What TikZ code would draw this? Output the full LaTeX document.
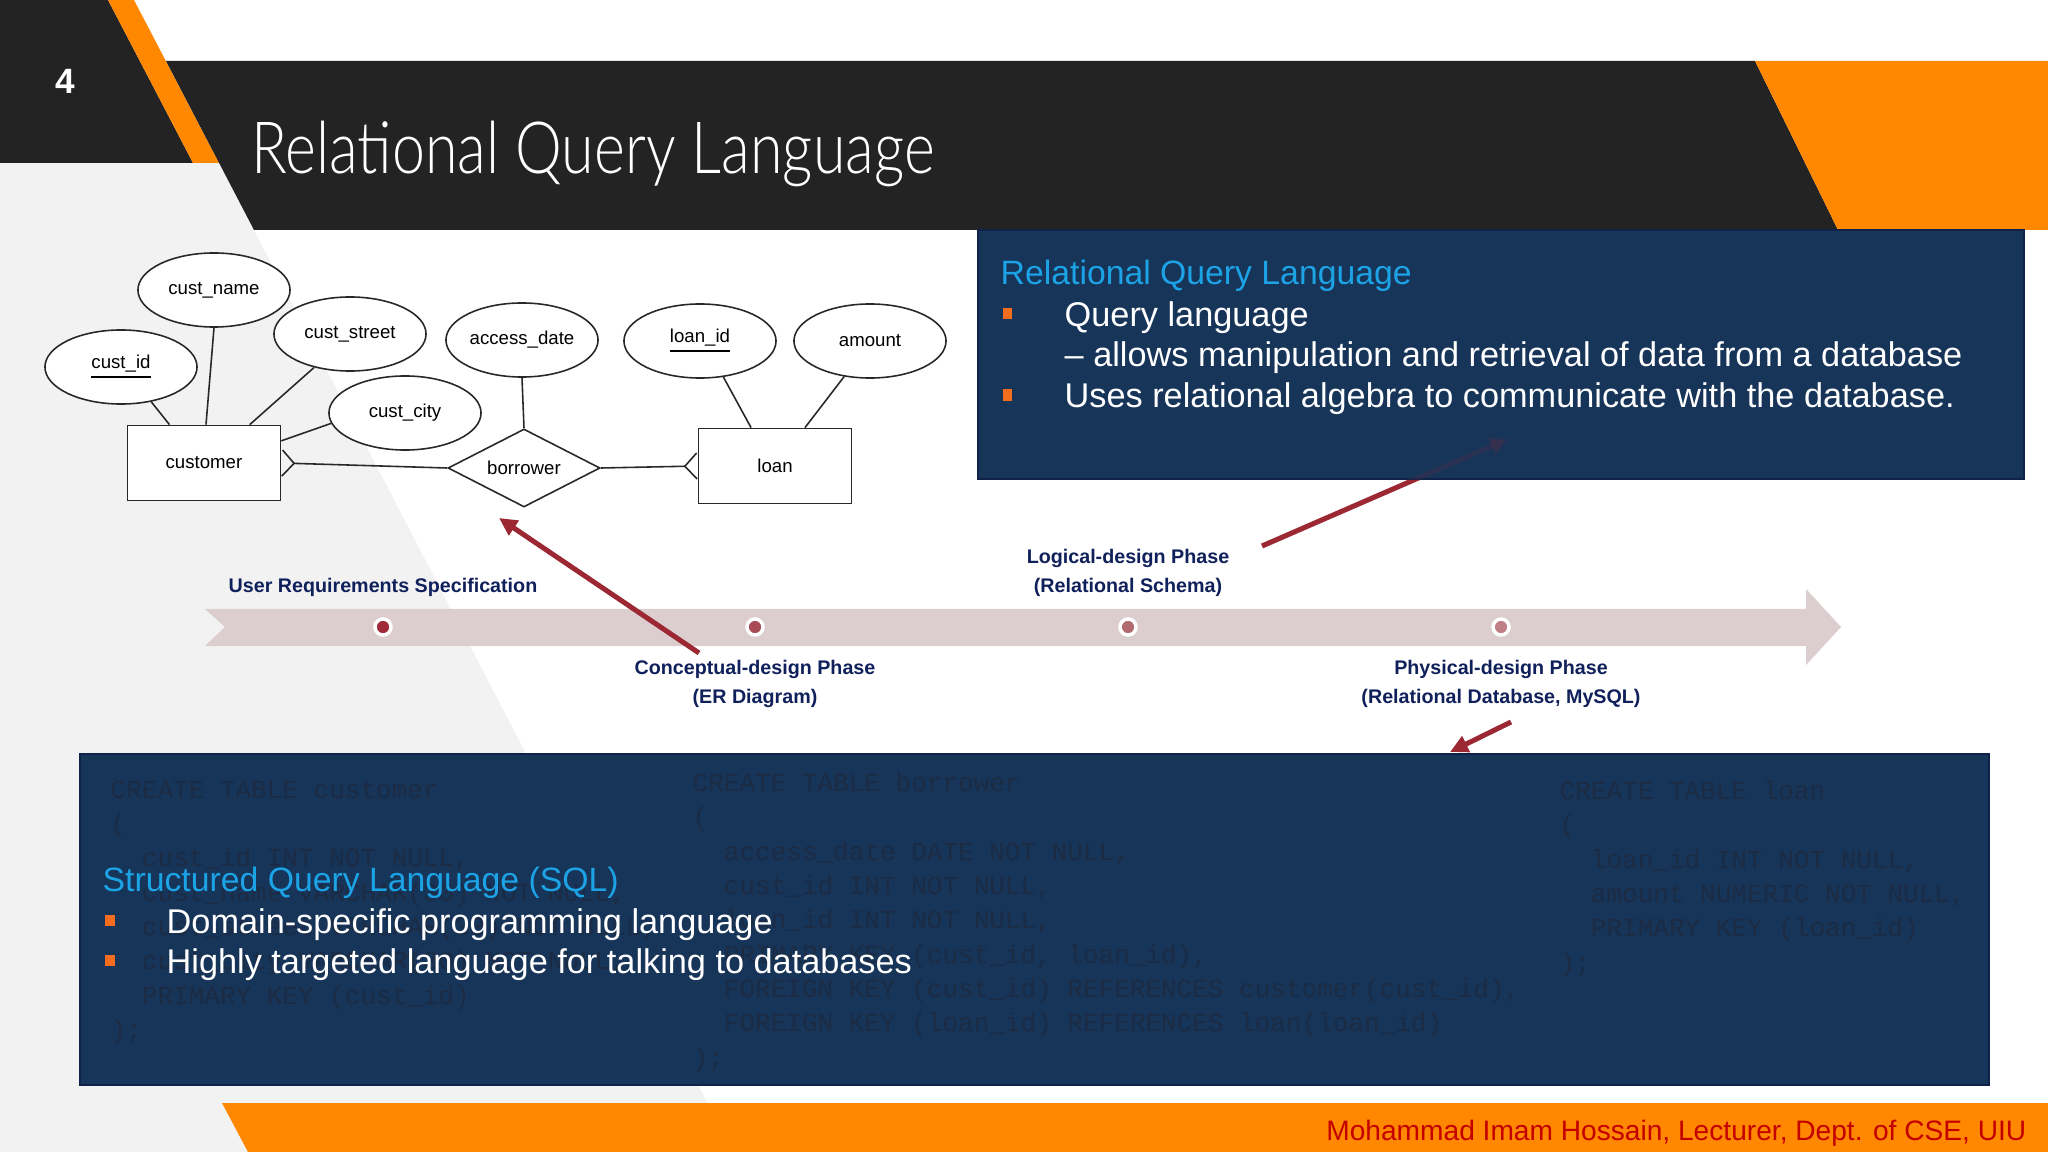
\documentclass[tikz,border=0pt]{standalone}
\usepackage{fontspec}
\setmainfont{Liberation Sans}
\setmonofont{Liberation Mono}
\newfontfamily\titlefont[FakeStretch=0.82]{Lato Light}
\usetikzlibrary{arrows.meta,positioning,shapes.geometric}

\definecolor{darkband}{RGB}{35,35,35}
\definecolor{accent}{RGB}{255,136,0}
\definecolor{backgray}{RGB}{242,242,243}
\definecolor{panel}{RGB}{23,52,89}
\definecolor{panelline}{RGB}{14,34,74}
\definecolor{ghost}{RGB}{27,44,68}
\definecolor{headblue}{RGB}{28,163,230}
\definecolor{marker}{RGB}{242,110,30}
\definecolor{phasetext}{RGB}{16,32,90}
\definecolor{band}{RGB}{220,205,207}
\definecolor{arrowred}{RGB}{155,40,50}
\definecolor{erline}{RGB}{40,40,40}
\definecolor{credit}{RGB}{196,0,0}
\definecolor{dotA}{RGB}{160,40,55}
\definecolor{dotB}{RGB}{168,75,85}
\definecolor{dotC}{RGB}{178,105,112}
\definecolor{dotD}{RGB}{190,128,133}

\begin{document}
\begin{tikzpicture}[
    x=0.01cm, y=-0.01cm,
    entity/.style={
        rectangle, draw=erline, fill=white, line width=0.45pt,
        minimum width=1.53cm, minimum height=0.75cm,
        font=\fontsize{5.3}{6}\selectfont
    },
    attrib/.style={
        ellipse, draw=erline, fill=white, line width=0.45pt, inner sep=0pt,
        minimum width=1.52cm, minimum height=0.74cm,
        font=\fontsize{5.3}{6}\selectfont
    },
    relation/.style={
        diamond, aspect=2, draw=erline, fill=white, line width=0.45pt, inner sep=0pt,
        minimum width=1.52cm, minimum height=0.78cm,
        font=\fontsize{5.3}{6}\selectfont
    },
    link/.style={draw=erline, line width=0.45pt},
    crow/.tip={Straight Barb[reversed, length=1.2mm, width=2.6mm]},
    phasedot/.style={circle, draw=white, line width=0.035cm, minimum size=0.16cm, inner sep=0pt},
    phase/.style={
        align=center, inner sep=0pt, text=phasetext,
        font=\bfseries\fontsize{5.6}{8.25}\selectfont
    },
    pointer/.style={-{Triangle[length=0.18cm, width=0.17cm]}, line width=0.05cm, draw=arrowred},
    panelbox/.style={fill=panel, draw=panelline, line width=0.02cm},
    heading/.style={anchor=base west, inner sep=0pt, text=headblue, font=\fontsize{9.6}{11}\selectfont},
    body/.style={anchor=base west, inner sep=0pt, text=white, font=\fontsize{9.75}{11}\selectfont},
    bullet/.style={rectangle, fill=marker, minimum width=0.09cm, minimum height=0.11cm, inner sep=0pt},
    ghostcode/.style={
        anchor=north west, align=left, inner sep=0pt, text=ghost,
        font=\ttfamily\fontsize{7.4}{9.76}\selectfont
    }
]

% Fundo
\fill[white] (0,0) rectangle (2048,1152);
\useasboundingbox (0,0) rectangle (2048,1152);
\fill[backgray] (0,163) -- (219,163) -- (733,1152) -- (0,1152) -- cycle;

% Barra do titulo
\fill[darkband] (0,0) -- (108,0) -- (193,163) -- (0,163) -- cycle;
\fill[accent] (108,0) -- (134,0) -- (219,163) -- (193,163) -- cycle;
\fill[darkband] (166,61) -- (1755,61) -- (1838,230) -- (254,230) -- cycle;
\fill[accent] (1755,61) -- (2048,61) -- (2048,230) -- (1838,230) -- cycle;
\node[anchor=base, inner sep=0pt, text=white, font=\bfseries\fontsize{10}{12}\selectfont] (slidenum) at (65,94) {4};
\node[anchor=base west, inner sep=0pt, text=white, font=\titlefont\fontsize{20.5}{24}\selectfont] (title) at (251,174) {Relational Query Language};

% Diagrama ER
\node[entity] (customer) at (204,463) {customer};
\node[relation] (borrower) at (524,468) {borrower};
\node[entity] (loan) at (775,466) {loan};
\node[attrib] (custname) at (214,290) {cust\_name};
\node[attrib] (custid) at (121,367) {\underline{cust\_id}};
\node[attrib] (custstreet) at (350,334) {cust\_street};
\node[attrib] (custcity) at (405,413) {cust\_city};
\node[attrib] (accessdate) at (522,340) {access\_date};
\node[attrib] (loanid) at (700,341) {\underline{loan\_id}};
\node[attrib] (amount) at (870,341) {amount};

\draw[link] (custid.-49) -- (customer.132);
\draw[link] (custname.south) -- (customer.87);
\draw[link] (custstreet.-137) -- (customer.40);
\draw[link] (custcity.-172) -- (customer.16);
\draw[link] (accessdate.south) -- (borrower.north);
\draw[link] (loanid.-57) -- (loan.122);
\draw[link] (amount.-126) -- (loan.52);
\draw[link, crow-] (customer.east) -- (borrower.west);
\draw[link, -crow] (borrower.east) -- (loan.west);

% Linha do tempo
\fill[band] (205,609) -- (1806,609) -- (1806,589) -- (1841,627) -- (1806,665)
    -- (1806,646) -- (205,646) -- (225,627) -- cycle;
\node[phasedot, fill=dotA] (urs) at (383,627) {};
\node[phasedot, fill=dotB] (concept) at (755,627) {};
\node[phasedot, fill=dotC] (logical) at (1128,627) {};
\node[phasedot, fill=dotD] (physical) at (1501,627) {};

\node[phase, above=0.2cm of urs] (urslabel) {User Requirements Specification};
\node[phase, below=0.23cm of concept] (conceptlabel) {Conceptual-design Phase\\(ER Diagram)};
\node[phase, above=0.2cm of logical] (logicallabel) {Logical-design Phase\\(Relational Schema)};
\node[phase, below=0.23cm of physical] (physicallabel) {Physical-design Phase\\(Relational Database, MySQL)};

% Setas
\coordinate (p1from) at (699,653);
\coordinate (p1to) at (499,518);
\coordinate (p2from) at (1262,546);
\coordinate (p2to) at (1508,439);
\coordinate (p3from) at (1511,722);
\coordinate (p3to) at (1450,752);
\draw[pointer] (p1from) -- (p1to);
\draw[pointer] (p2from) -- (p2to);

% Quadro superior
\draw[panelbox] (978,230) rectangle (2024,479);
\draw[pointer, opacity=0.15] (p2from) -- (p2to);
\node[heading] (rqlhead) at (1000,285) {Relational Query Language};
\node[bullet] (rqlmark1) at (1007,314) {};
\node[body] (rqlline1) at (1064,327) {Query language};
\node[body] (rqlline2) at (1064,367) {– allows manipulation and retrieval of data from a database};
\node[bullet] (rqlmark2) at (1007,395) {};
\node[body] (rqlline3) at (1064,408) {Uses relational algebra to communicate with the database.};

% Quadro inferior
\draw[panelbox] (80,754) rectangle (1989,1085);
\node[ghostcode] (sqlcustomer) at (110,780) {CREATE TABLE customer\\(\\
\hspace*{1.2em}cust\_id INT NOT NULL,\\
\hspace*{1.2em}cust\_name VARCHAR(30) NOT NULL,\\
\hspace*{1.2em}cust\_street VARCHAR(30) NOT NULL,\\
\hspace*{1.2em}cust\_city VARCHAR(30) NOT NULL,\\
\hspace*{1.2em}PRIMARY KEY (cust\_id)\\);};
\node[ghostcode] (sqlborrower) at (692,772) {CREATE TABLE borrower\\(\\
\hspace*{1.2em}access\_date DATE NOT NULL,\\
\hspace*{1.2em}cust\_id INT NOT NULL,\\
\hspace*{1.2em}loan\_id INT NOT NULL,\\
\hspace*{1.2em}PRIMARY KEY (cust\_id, loan\_id),\\
\hspace*{1.2em}FOREIGN KEY (cust\_id) REFERENCES customer(cust\_id),\\
\hspace*{1.2em}FOREIGN KEY (loan\_id) REFERENCES loan(loan\_id)\\);};
\node[ghostcode] (sqlloan) at (1559,780) {CREATE TABLE loan\\(\\
\hspace*{1.2em}loan\_id INT NOT NULL,\\
\hspace*{1.2em}amount NUMERIC NOT NULL,\\
\hspace*{1.2em}PRIMARY KEY (loan\_id)\\);};

\node[heading] (sqlhead) at (102,891) {Structured Query Language (SQL)};
\node[bullet] (sqlmark1) at (110,920) {};
\node[body] (sqlline1) at (166,933) {Domain-specific programming language};
\node[bullet] (sqlmark2) at (110,960) {};
\node[body] (sqlline2) at (166,973) {Highly targeted language for talking to databases};
\draw[pointer] (p3from) -- (p3to);

% Rodape
\fill[accent] (222,1103) -- (2048,1103) -- (2048,1152) -- (248,1152) -- cycle;
\node[anchor=base east, inner sep=0pt, text=credit, font=\fontsize{8}{10}\selectfont] (credit) at (2027,1140) {Mohammad Imam Hossain, Lecturer, Dept. of CSE, UIU};

\end{tikzpicture}
\end{document}
